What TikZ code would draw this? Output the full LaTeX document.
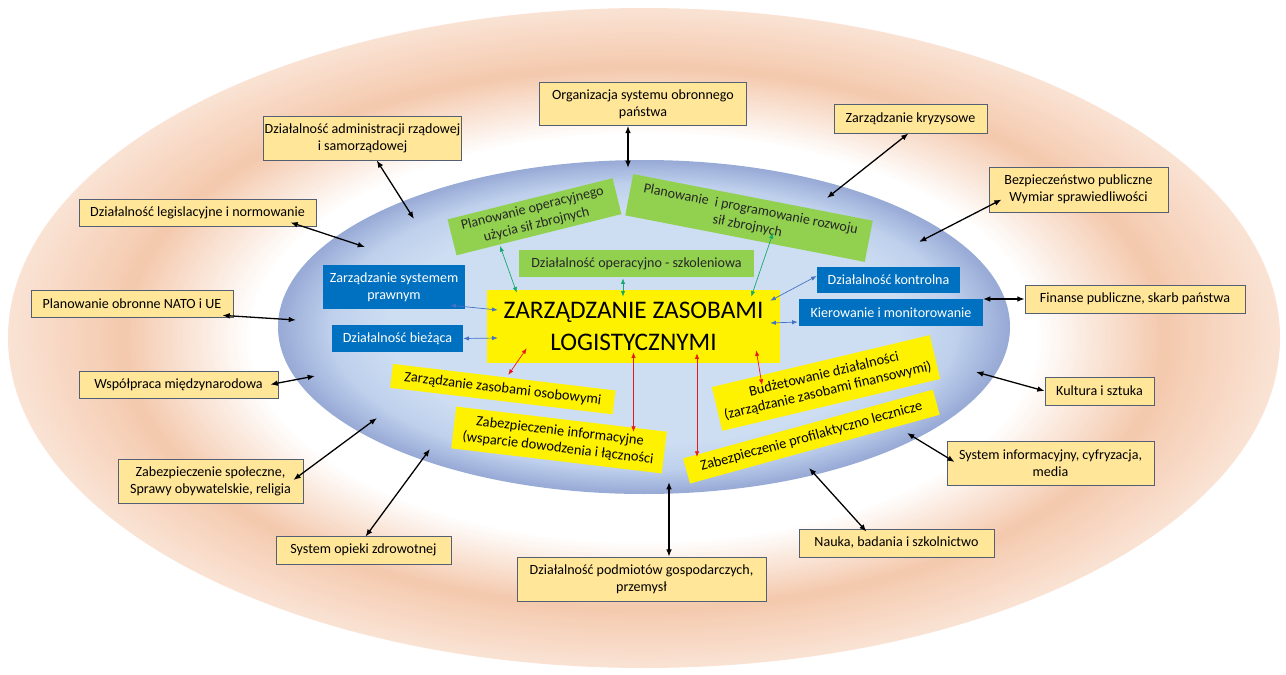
\documentclass[tikz,border=0pt]{standalone}
\usepackage{fontspec}
\setmainfont{Carlito}
\usetikzlibrary{arrows.meta}

\definecolor{tanfill}{RGB}{255,230,153}
\definecolor{tanline}{RGB}{85,95,115}
\definecolor{bluefill}{RGB}{0,112,192}
\definecolor{greenfill}{RGB}{146,208,80}
\definecolor{bluearrow}{RGB}{68,114,196}
\definecolor{greenarrow}{RGB}{20,170,110}
\definecolor{redarrow}{RGB}{235,25,25}
\definecolor{peach}{RGB}{244,201,173}
\definecolor{peachedge}{RGB}{250,227,212}
\definecolor{skyin}{RGB}{205,222,242}
\definecolor{skymid}{RGB}{190,208,236}
\definecolor{skyrim}{RGB}{152,170,214}

\begin{document}
\begin{tikzpicture}[x=0.3mm, y=-0.3mm,
  outbox/.style={draw=tanline, fill=tanfill, line width=0.6pt, align=center,
                 font=\fontsize{12}{14.5}\selectfont, inner sep=1pt},
  bluebox/.style={fill=bluefill, text=white, align=center,
                  font=\fontsize{12}{14.5}\selectfont, inner sep=1pt},
  greenbox/.style={fill=greenfill, text=black!85, align=center,
                   font=\fontsize{12}{14.5}\selectfont, inner sep=1pt},
  yellowbox/.style={fill=yellow, align=center,
                    font=\fontsize{12.3}{14.5}\selectfont, inner sep=1pt},
  ar/.style={{Latex[length=2.2mm,width=1.7mm]}-{Latex[length=2.2mm,width=1.7mm]}, line width=1.1pt},
  arb/.style={{Latex[length=1.7mm,width=1.3mm]}-{Latex[length=1.7mm,width=1.3mm]}, bluearrow, line width=0.6pt},
  arg/.style={{Latex[length=1.7mm,width=1.3mm]}-{Latex[length=1.7mm,width=1.3mm]}, greenarrow, line width=0.6pt},
  arr/.style={{Latex[length=1.7mm,width=1.3mm]}-{Latex[length=1.7mm,width=1.3mm]}, redarrow, line width=0.6pt}]
\useasboundingbox[fill=white] (0,0) rectangle (1286,675);
% outer ring: peach band fading to white
\foreach \k in {0,...,36}{
  \pgfmathsetmacro\f{1-\k*0.005}
  \pgfmathsetmacro\p{\k/36*100}
  \fill[peach!\p!peachedge] (644,338) ellipse [x radius={636*\f}, y radius={330*\f}];
}
\foreach \k in {1,...,40}{
  \pgfmathsetmacro\f{0.82-\k*0.005}
  \pgfmathsetmacro\p{100-\k/40*100}
  \fill[peach!\p!white] (644,338) ellipse [x radius={636*\f}, y radius={330*\f}];
}
% inner ellipse: darker rim, light centre
\foreach \k in {0,...,28}{
  \pgfmathsetmacro\f{1-\k*0.005}
  \pgfmathsetmacro\p{\k/28*100}
  \fill[skymid!\p!skyrim] (644,327) ellipse [x radius={366*\f}, y radius={167*\f}];
}
\foreach \k in {1,...,32}{
  \pgfmathsetmacro\f{0.86-\k*0.005}
  \pgfmathsetmacro\p{\k/32*100}
  \fill[skyin!\p!skymid] (644,327) ellipse [x radius={366*\f}, y radius={167*\f}];
}

% outer ring
\node[outbox, minimum width=62.1mm, minimum height=12.9mm] (org) at (643,104) {Organizacja systemu obronnego\\państwa};
\node[outbox, minimum width=56.1mm, minimum height=13.2mm] (adm) at (362.5,138) {Działalność administracji rządowej\\i samorządowej};
\node[outbox, minimum width=71.1mm, minimum height=8.1mm] (leg) at (197.5,212.5) {Działalność legislacyjne i normowanie};
\node[outbox, minimum width=60.6mm, minimum height=8.1mm] (nato) at (132,303.5) {Planowanie obronne NATO i UE};
\node[outbox, minimum width=59.7mm, minimum height=8.1mm] (wsp) at (178.5,384.5) {Współpraca międzynarodowa};
\node[outbox, minimum width=55.5mm, minimum height=13.2mm] (spol) at (210.5,481) {Zabezpieczenie społeczne,\\Sprawy obywatelskie, religia};
\node[outbox, minimum width=52.5mm, minimum height=8.4mm] (opi) at (363.5,550) {System opieki zdrowotnej};
\node[outbox, minimum width=74.7mm, minimum height=13.2mm] (gosp) at (641.5,579) {Działalność podmiotów gospodarczych,\\przemysł};
\node[outbox, minimum width=58.5mm, minimum height=8.4mm] (nau) at (896.5,543) {Nauka, badania i szkolnictwo};
\node[outbox, minimum width=62.1mm, minimum height=13.2mm] (sys) at (1050.5,463) {System informacyjny, cyfryzacja,\\media};
\node[outbox, minimum width=32.7mm, minimum height=8.4mm] (kul) at (1099.5,391) {Kultura i sztuka};
\node[outbox, minimum width=66mm, minimum height=8.4mm] (fin) at (1135,299) {Finanse publiczne, skarb państwa};
\node[outbox, minimum width=53.7mm, minimum height=13.5mm] (bez) at (1078.5,189.5) {Bezpieczeństwo publiczne\\Wymiar sprawiedliwości};
\node[outbox, minimum width=45.9mm, minimum height=8.7mm] (kry) at (910.5,118.5) {Zarządzanie kryzysowe};

% inner ellipse
\node[yellowbox, minimum width=87.9mm, minimum height=21.9mm, font=\fontsize{21.6}{27}\selectfont] (zzl) at (633.5,326.5) {ZARZĄDZANIE ZASOBAMI\\LOGISTYCZNYMI};
\node[bluebox, minimum width=42.6mm, minimum height=13.2mm] (sysp) at (394,287) {Zarządzanie systemem\\prawnym};
\node[bluebox, minimum width=39.3mm, minimum height=8.1mm] (biez) at (397.5,338.5) {Działalność bieżąca};
\node[bluebox, minimum width=42.9mm, minimum height=7.8mm] (kontr) at (888.5,280) {Działalność kontrolna};
\node[bluebox, minimum width=55.2mm, minimum height=8.1mm] (kier) at (891,312.5) {Kierowanie i monitorowanie};
\node[greenbox, minimum width=70.5mm, minimum height=8.1mm] (szk) at (636.5,263.5) {Działalność operacyjno - szkoleniowa};
\node[greenbox, minimum width=51mm, minimum height=11.1mm, rotate=14] (opuz) at (534.5,216.75) {Planowanie operacyjnego\\użycia sił zbrojnych};
\node[greenbox, minimum width=73.2mm, minimum height=12.6mm, rotate=-11] (prog) at (749,218) {Planowanie\ \ i programowanie rozwoju\\sił zbrojnych};
\node[yellowbox, minimum width=67.2mm, minimum height=7.2mm, rotate=-6.8] (osob) at (502.8,389.1) {Zarządzanie zasobami osobowymi};
\node[yellowbox, minimum width=63.6mm, minimum height=12.6mm, rotate=-6.8] (info) at (559,440) {Zabezpieczenie informacyjne\\(wsparcie dowodzenia i łączności};
\node[yellowbox, minimum width=67.2mm, minimum height=13.5mm, rotate=13.4] (budz) at (826,383) {Budżetowanie działalności\\(zarządzanie zasobami finansowymi)};
\node[yellowbox, minimum width=77.7mm, minimum height=7.8mm, rotate=15.4] (prof) at (811.4,436.6) {Zabezpieczenie profilaktyczno lecznicze};

% free ends of the outer connectors
\coordinate (eOrg) at (628,168);
\coordinate (eAdm) at (414,219);
\coordinate (eLeg) at (365,247);
\coordinate (eNato) at (296,320);
\coordinate (eWsp) at (315,376);
\coordinate (eSpol) at (377,418);
\coordinate (eOpi) at (430,449);
\coordinate (eGosp) at (669,482);
\coordinate (eNau) at (809,468);
\coordinate (eSys) at (907,433);
\coordinate (eKul) at (976,372);
\coordinate (eFin) at (983,299);
\coordinate (eBez) at (919,242);
\coordinate (eKry) at (827,198);

\draw[ar] (org.south -| eOrg) -- (eOrg);
\draw[ar] (adm) -- (eAdm);
\draw[ar] ([shift={(-26,-4)}]leg.south east) -- (eLeg);
\draw[ar] ([shift={(-11,-2)}]nato.south east) -- (eNato);
\draw[ar] ([shift={(-8,0)}]wsp.east) -- (eWsp);
\draw[ar] ([shift={(-10,-1)}]spol.east) -- (eSpol);
\draw[ar] ([shift={(2,1)}]opi.north) -- (eOpi);
\draw[ar] (gosp.north -| eGosp) -- (eGosp);
\draw[ar] ([shift={(-30,3)}]nau.north) -- (eNau);
\draw[ar] ([shift={(8,-1)}]sys.west) -- (eSys);
\draw[ar] (kul.west) -- (eKul);
\draw[ar] (fin.west) -- (eFin);
\draw[ar] ([shift={(13,10)}]bez.west) -- (eBez);
\draw[ar] ([shift={(-2,0)}]kry.south) -- (eKry);

% inner connectors
\draw[arb] ([shift={(-15,-4)}]sysp.south east) -- ([shift={(11,-16.5)}]zzl.west);
\draw[arb] (biez.east) -- ([shift={(11,11.5)}]zzl.west);
\draw[arb] ([shift={(0,-4)}]kontr.west) -- ([shift={(-10,11)}]zzl.north east);
\draw[arb] ([shift={(-1,9.5)}]kier.west) -- ([shift={(-10,-3.5)}]zzl.east);
\draw[arg] ([shift={(-39,11)}]opuz.south) -- ([shift={(30,3)}]zzl.north west);
\draw[arg] ([shift={(-13.5,1)}]szk.south) -- ([shift={(-10.5,7)}]zzl.north);
\draw[arg] ([shift={(24,15)}]prog.center) -- ([shift={(-29,7)}]zzl.north east);
\draw[arr] ([shift={(40,-15)}]zzl.south west) -- ([shift={(4,-2)}]osob.north);
\draw[arr] ([shift={(0,-11)}]zzl.south) -- ([shift={(74.5,-8)}]info.center);
\draw[arr] ([shift={(63.5,-10)}]zzl.south) -- ([shift={(-114.4,20.4)}]prof.center);
\draw[arr] ([shift={(-24,-13)}]zzl.south east) -- ([shift={(-64,2)}]budz.center);
\end{tikzpicture}
\end{document}
